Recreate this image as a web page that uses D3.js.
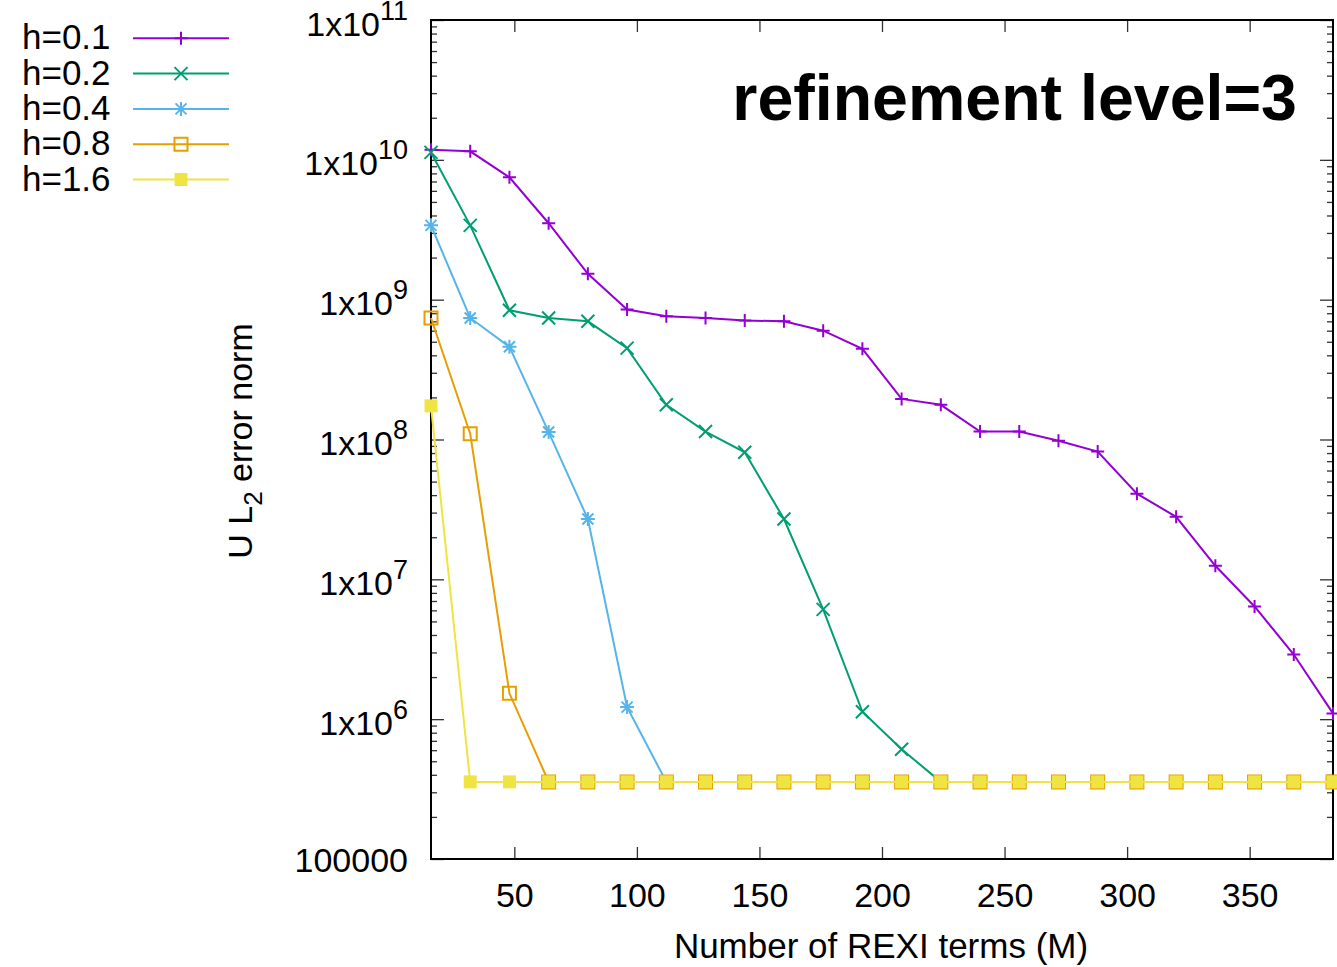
<!DOCTYPE html>
<html>
<head>
<meta charset="utf-8">
<script src="https://cdn.jsdelivr.net/npm/d3@7"></script>
<style>
  body { margin: 0; background: #fff; }
  text { font-family: "Liberation Sans", Arial, Helvetica, sans-serif; fill: #000; }
</style>
</head>
<body>
<div id="chart"></div>
<script>
// number of REXI terms (x values)
var terms = [16, 32, 48, 64, 80, 96, 112, 128, 144, 160, 176, 192,
             208, 224, 240, 256, 272, 288, 304, 320, 336, 352, 368, 384];

var seriesNames = ["h=0.1", "h=0.2", "h=0.4", "h=0.8", "h=1.6"];

// U L2 error norm
var err_h01 = [1.18e10, 1.15e10, 7.5e9, 3.52e9, 1.53e9, 8.5e8, 7.6e8, 7.4e8, 7.1e8, 7.0e8, 6.0e8, 4.45e8,
               1.95e8, 1.77e8, 1.14e8, 1.14e8, 9.8e7, 8.2e7, 4.1e7, 2.8e7, 1.25e7, 6.4e6, 2.9e6, 1.1e6];
var err_h02 = [1.13e10, 3.4e9, 8.4e8, 7.4e8, 7.0e8, 4.5e8, 1.77e8, 1.14e8, 8.1e7, 2.7e7, 6.1e6, 1.13e6,
               6.1e5, 3.56e5];
var err_h04 = [3.4e9, 7.4e8, 4.6e8, 1.13e8, 2.7e7, 1.22e6, 3.56e5];
var err_h08 = [7.4e8, 1.1e8, 1.53e6, 3.56e5, 3.56e5, 3.56e5, 3.56e5, 3.56e5, 3.56e5, 3.56e5, 3.56e5, 3.56e5,
               3.56e5, 3.56e5, 3.56e5, 3.56e5, 3.56e5, 3.56e5, 3.56e5, 3.56e5, 3.56e5, 3.56e5, 3.56e5, 3.56e5];
var err_h16 = [1.74e8, 3.56e5, 3.56e5, 3.56e5, 3.56e5, 3.56e5, 3.56e5, 3.56e5, 3.56e5, 3.56e5, 3.56e5, 3.56e5,
               3.56e5, 3.56e5, 3.56e5, 3.56e5, 3.56e5, 3.56e5, 3.56e5, 3.56e5, 3.56e5, 3.56e5, 3.56e5, 3.56e5];

var xTicks = [50, 100, 150, 200, 250, 300, 350];
var yTicks = [1e5, 1e6, 1e7, 1e8, 1e9, 1e10, 1e11];

var allSeries = [err_h01, err_h02, err_h04, err_h08, err_h16];

// styles (gnuplot default palette)
var colors = ["#9400d3", "#009e73", "#56b4e9", "#e69f00", "#f0e442"];
var markers = ["plus", "cross", "star", "box", "boxfill"];

var width = 1337, height = 967;
var plotLeft = 431, plotRight = 1333, plotTop = 20, plotBottom = 859;

var svg, x, y;

gen_chart();

function markerPath(type) {
  if (type == "plus") return "M-6.5,0H6.5M0,-6.5V6.5";
  if (type == "cross") return "M-6.5,-6.5L6.5,6.5M-6.5,6.5L6.5,-6.5";
  if (type == "star") return "M-7,0H7M0,-7V7M-5.5,-5.5L5.5,5.5M-5.5,5.5L5.5,-5.5";
  return "M-6.5,-6.5H6.5V6.5H-6.5Z";
}

function drawMarker(g, type, color) {
  g.append("path")
    .attr("d", markerPath(type))
    .attr("fill", type == "boxfill" ? color : "none")
    .attr("stroke", type == "boxfill" ? "none" : color)
    .attr("stroke-width", 2);
}

function gen_chart() {
  svg = d3.select("#chart")
    .append("svg")
    .attr("width", width)
    .attr("height", height);

  x = d3.scaleLinear().domain([16, 384]).range([plotLeft, plotRight]);
  y = d3.scaleLog().domain([1e5, 1e11]).range([plotBottom, plotTop]);

  // minor log ticks 2..9 in every decade
  var minor = [];
  for (var e = 5; e < 11; e++) {
    for (var k = 2; k <= 9; k++) minor.push(k * Math.pow(10, e));
  }

  // left axis: major ticks + labels
  var yaxis = svg.append("g")
    .attr("transform", "translate(" + plotLeft + ",0)")
    .call(d3.axisLeft(y).tickValues(yTicks).tickSize(-13).tickSizeOuter(0).tickPadding(23));
  yaxis.attr("font-size", 34).attr("font-family", null);
  yaxis.selectAll("text").each(function (d) {
    var t = d3.select(this);
    t.text(null);
    if (d == 1e5) {
      t.attr("dy", 12).text("100000");
    } else {
      t.attr("dy", 15);
      t.append("tspan").text("1x10");
      t.append("tspan").attr("dy", -16).attr("font-size", 27).text(Math.round(Math.log10(d)));
    }
  });
  svg.append("g")
    .attr("transform", "translate(" + plotLeft + ",0)")
    .call(d3.axisLeft(y).tickValues(minor).tickSize(-6).tickSizeOuter(0).tickFormat(""));

  // right mirror ticks
  svg.append("g")
    .attr("transform", "translate(" + plotRight + ",0)")
    .call(d3.axisRight(y).tickValues(yTicks).tickSize(-13).tickSizeOuter(0).tickFormat(""));
  svg.append("g")
    .attr("transform", "translate(" + plotRight + ",0)")
    .call(d3.axisRight(y).tickValues(minor).tickSize(-6).tickSizeOuter(0).tickFormat(""));

  // bottom axis
  var xaxis = svg.append("g")
    .attr("transform", "translate(0," + plotBottom + ")")
    .call(d3.axisBottom(x).tickValues(xTicks).tickSize(-12).tickSizeOuter(0));
  xaxis.attr("font-size", 34).attr("font-family", null);
  xaxis.selectAll("text").attr("y", 48).attr("dy", 0);

  // top mirror ticks
  svg.append("g")
    .attr("transform", "translate(0," + plotTop + ")")
    .call(d3.axisTop(x).tickValues(xTicks).tickSize(-12).tickSizeOuter(0).tickFormat(""));

  svg.selectAll(".domain").remove();
  svg.selectAll(".tick line").attr("stroke", "#333").attr("stroke-width", 1.3);

  // border
  svg.append("rect")
    .attr("x", plotLeft).attr("y", plotTop)
    .attr("width", plotRight - plotLeft).attr("height", plotBottom - plotTop)
    .attr("fill", "none").attr("stroke", "#000").attr("stroke-width", 2);

  // series
  var line = d3.line()
    .x(function (d, i) { return x(terms[i]); })
    .y(function (d) { return y(d); });

  allSeries.forEach(function (s, i) {
    svg.append("path")
      .datum(s)
      .attr("fill", "none")
      .attr("stroke", colors[i])
      .attr("stroke-width", 2)
      .attr("d", line);
    s.forEach(function (v, j) {
      var g = svg.append("g").attr("transform", "translate(" + x(terms[j]) + "," + y(v) + ")");
      drawMarker(g, markers[i], colors[i]);
    });
  });

  // legend
  seriesNames.forEach(function (name, i) {
    var ly = 38.3 + i * 35.3;
    svg.append("text")
      .attr("x", 22).attr("y", ly + 11)
      .attr("font-size", 35)
      .text(name);
    svg.append("line")
      .attr("x1", 133).attr("x2", 229)
      .attr("y1", ly).attr("y2", ly)
      .attr("stroke", colors[i]).attr("stroke-width", 2);
    var g = svg.append("g").attr("transform", "translate(181," + ly + ")");
    drawMarker(g, markers[i], colors[i]);
  });

  // title inside plot
  svg.append("text")
    .attr("x", 1297).attr("y", 120)
    .attr("text-anchor", "end")
    .attr("font-size", 64.5)
    .attr("font-weight", "bold")
    .text("refinement level=3");

  // axis labels
  svg.append("text")
    .attr("x", 881).attr("y", 958)
    .attr("text-anchor", "middle")
    .attr("font-size", 35)
    .text("Number of REXI terms (M)");

  var ylab = svg.append("text")
    .attr("transform", "translate(252,441) rotate(-90)")
    .attr("text-anchor", "middle")
    .attr("font-size", 34);
  ylab.append("tspan").text("U L");
  ylab.append("tspan").attr("dy", 10).attr("font-size", 26).text("2");
  ylab.append("tspan").attr("dy", -10).text(" error norm");
}
</script>
</body>
</html>
